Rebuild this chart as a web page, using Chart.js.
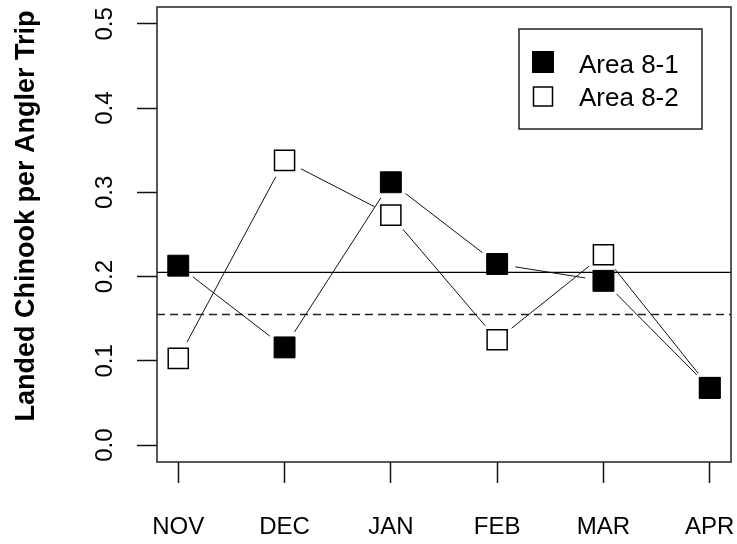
<!DOCTYPE html>
<html>
<head>
<meta charset="utf-8">
<script src="https://cdn.jsdelivr.net/npm/chart.js@4/dist/chart.umd.min.js"></script>
<style>
  html, body { margin: 0; padding: 0; background: #fff; }
  #wrap { width: 737px; height: 544px; }
</style>
</head>
<body>
<div id="wrap"><canvas id="c" width="737" height="544"></canvas></div>
<script>
// Landed Chinook per angler trip, by month
const months = ['NOV', 'DEC', 'JAN', 'FEB', 'MAR', 'APR'];
const area81 = [0.213, 0.116, 0.312, 0.215, 0.195, 0.068];
const area82 = [0.103, 0.338, 0.273, 0.125, 0.226, 0.068];
const seriesNames = ['Area 8-1', 'Area 8-2'];
const yTicks = [0.0, 0.1, 0.2, 0.3, 0.4, 0.5];
const yTitle = 'Landed Chinook per Angler Trip';
// reference levels drawn across the panel
const refSolid = 0.205;
const refDashed = 0.155;

const FONT = '"Liberation Sans", Arial, Helvetica, sans-serif';
const INK = '#000';

const toXY = vals => vals.map((v, i) => ({ x: i, y: v }));

// Connecting lines with a small gap around each marker, plus the reference lines
const linesPlugin = {
  id: 'gappedLines',
  beforeDatasetsDraw(chart) {
    const { ctx, chartArea: ca, scales: { y } } = chart;
    ctx.save();
    ctx.beginPath();
    ctx.rect(ca.left, ca.top, ca.right - ca.left, ca.bottom - ca.top);
    ctx.clip();

    // solid reference
    ctx.strokeStyle = INK;
    ctx.lineWidth = 1.3;
    ctx.setLineDash([]);
    let py = y.getPixelForValue(refSolid);
    ctx.beginPath(); ctx.moveTo(ca.left, py); ctx.lineTo(ca.right, py); ctx.stroke();

    // dashed reference
    ctx.strokeStyle = '#222';
    ctx.lineWidth = 1.6;
    ctx.setLineDash([8, 5]);
    py = y.getPixelForValue(refDashed);
    ctx.beginPath(); ctx.moveTo(ca.left, py); ctx.lineTo(ca.right, py); ctx.stroke();
    ctx.setLineDash([]);

    // series segments
    const gap = 18.5;
    ctx.strokeStyle = '#111';
    ctx.lineWidth = 1;
    chart.data.datasets.forEach((ds, d) => {
      const pts = chart.getDatasetMeta(d).data;
      for (let i = 0; i < pts.length - 1; i++) {
        const a = pts[i], b = pts[i + 1];
        const dx = b.x - a.x, dy = b.y - a.y;
        const len = Math.hypot(dx, dy);
        if (len <= 2 * gap) continue;
        const ux = dx / len, uy = dy / len;
        ctx.beginPath();
        ctx.moveTo(a.x + ux * gap, a.y + uy * gap);
        ctx.lineTo(b.x - ux * gap, b.y - uy * gap);
        ctx.stroke();
      }
    });
    ctx.restore();
  },
  afterDatasetsDraw(chart) {
    const { ctx, chartArea: ca } = chart;
    ctx.save();
    ctx.strokeStyle = '#222';
    ctx.lineWidth = 1.5;
    ctx.strokeRect(ca.left, ca.top, ca.right - ca.left, ca.bottom - ca.top);
    ctx.restore();
  }
};

// Vertical axis title, reading upward
const axisTitle = {
  id: 'axisTitle',
  afterDraw(chart) {
    const { ctx, chartArea: ca } = chart;
    ctx.save();
    ctx.translate(33.5, ca.top + 209);
    ctx.rotate(-Math.PI / 2);
    ctx.fillStyle = INK;
    ctx.font = 'bold 27px ' + FONT;
    ctx.textAlign = 'center';
    ctx.textBaseline = 'alphabetic';
    ctx.fillText(yTitle, 0, 0);
    ctx.restore();
  }
};

// Boxed legend in the upper right of the panel
const boxLegend = {
  id: 'boxLegend',
  afterDraw(chart) {
    const { ctx, chartArea: ca } = chart;
    const left = ca.right - 212, top = ca.top + 22;
    const w = 183, h = 100;
    ctx.save();
    ctx.fillStyle = '#fff';
    ctx.fillRect(left, top, w, h);
    ctx.strokeStyle = '#222';
    ctx.lineWidth = 1.5;
    ctx.strokeRect(left, top, w, h);

    const mx = left + 24;
    // filled marker
    ctx.fillStyle = INK;
    ctx.fillRect(mx - 11, top + 22, 22, 22);
    // open marker
    ctx.fillStyle = '#fff';
    ctx.fillRect(mx - 9.5, top + 58, 19, 19);
    ctx.strokeStyle = INK;
    ctx.lineWidth = 1.5;
    ctx.strokeRect(mx - 9.5, top + 58, 19, 19);

    ctx.fillStyle = INK;
    ctx.font = '26px ' + FONT;
    ctx.textAlign = 'left';
    ctx.textBaseline = 'alphabetic';
    ctx.fillText(seriesNames[0], left + 60, top + 43.5);
    ctx.fillText(seriesNames[1], left + 60, top + 77);
    ctx.restore();
  }
};

new Chart(document.getElementById('c'), {
  type: 'scatter',
  data: {
    datasets: [
      {
        label: seriesNames[0],
        data: toXY(area81),
        showLine: false,
        pointStyle: 'rect',
        pointRadius: 14.8,
        pointBackgroundColor: INK,
        pointBorderColor: INK,
        pointBorderWidth: 1
      },
      {
        label: seriesNames[1],
        data: toXY(area82),
        showLine: false,
        pointStyle: 'rect',
        pointRadius: 14.2,
        pointBackgroundColor: '#fff',
        pointBorderColor: INK,
        pointBorderWidth: 1.5
      }
    ]
  },
  options: {
    responsive: false,
    animation: false,
    devicePixelRatio: 1,
    layout: { autoPadding: false, padding: { left: 0, right: 6, top: 7, bottom: 0 } },
    plugins: { legend: { display: false }, tooltip: { enabled: false } },
    scales: {
      x: {
        type: 'linear',
        min: -0.2,
        max: 5.2,
        afterBuildTicks: s => { s.ticks = months.map((m, i) => ({ value: i })); },
        afterFit: s => { s.height = 82; s.paddingLeft = 0; s.paddingRight = 0; },
        ticks: {
          callback: v => months[v],
          autoSkip: false,
          maxRotation: 0,
          color: INK,
          padding: 30,
          font: { family: FONT, size: 24 }
        },
        grid: { drawOnChartArea: false, drawTicks: true, tickLength: 21, tickColor: '#111', tickWidth: 1.5 },
        border: { display: false }
      },
      y: {
        type: 'linear',
        min: -0.02,
        max: 0.52,
        afterBuildTicks: s => { s.ticks = yTicks.map(v => ({ value: v })); },
        afterFit: s => { s.width = 157; s.paddingTop = 0; s.paddingBottom = 0; },
        ticks: {
          callback: v => v.toFixed(1),
          minRotation: 90,
          maxRotation: 90,
          crossAlign: 'center',
          color: INK,
          padding: 15,
          font: { family: FONT, size: 24 }
        },
        grid: { drawOnChartArea: false, drawTicks: true, tickLength: 20, tickColor: '#111', tickWidth: 1.5 },
        border: { display: false }
      }
    }
  },
  plugins: [linesPlugin, axisTitle, boxLegend]
});
</script>
</body>
</html>
